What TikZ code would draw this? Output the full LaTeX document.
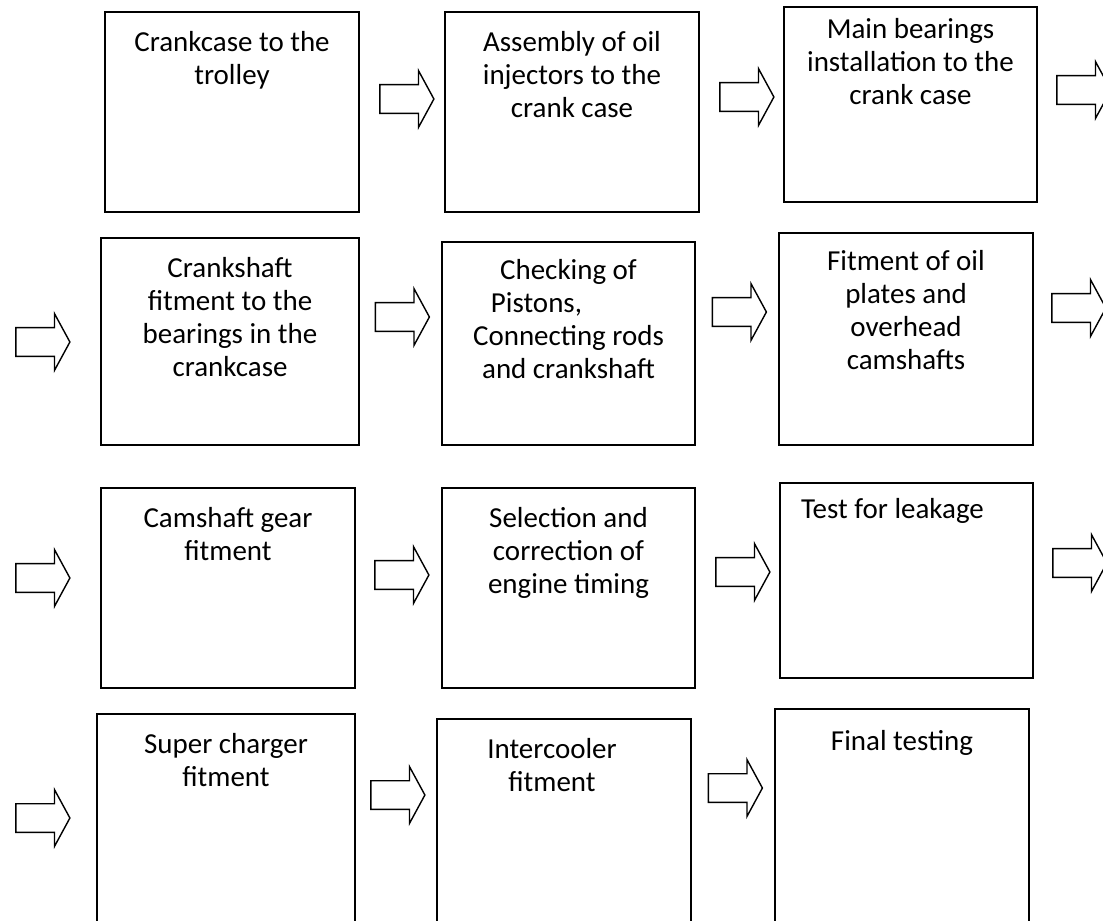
\documentclass[tikz,border=0pt]{standalone}
\usepackage{fontspec}
\setmainfont{Carlito}
\usetikzlibrary{positioning,shapes.arrows}

\begin{document}
\begin{tikzpicture}[x=0.025cm, y=0.025cm,
    stage/.style = {draw, line width=1.4pt, inner sep=0pt},
    txt/.style = {font=\fontsize{20.6}{23.5}\selectfont, align=center, inner sep=0pt},
    blk/.style = {single arrow, draw, line width=1pt, minimum height=1.35cm, inner xsep=0pt,
                  inner ysep=0.34cm, single arrow head extend=0.35cm, single arrow tip angle=123}]

    \useasboundingbox (0,0) rectangle (1103,-920);

    % row 1
    \node[stage, minimum width=6.35cm, minimum height=5cm] (s1) at (232,-112) {};
    \node[stage, minimum width=6.35cm, minimum height=5cm] (s2) at (572,-112) {};
    \node[stage, minimum width=6.33cm, minimum height=4.88cm] (s3) at (910.5,-104.5) {};

    \node[txt, below=0.5cm of s1.north] (t1) {Crankcase to the\\trolley};
    \node[txt, below=0.5cm of s2.north] (t2) {Assembly of oil\\injectors to the\\crank case};
    \node[txt, below=0.3cm of s3.north] (t3) {Main bearings\\installation to the\\crank case};

    \node[blk] (a12) at (403,-99) {};
    \node[blk] (a23) at (743,-97) {};
    \node[blk] (a3o) at (1080,-90) {};

    % row 2
    \node[stage, minimum width=6.45cm, minimum height=5.18cm] (s4) at (230,-341.5) {};
    \node[stage, minimum width=6.33cm, minimum height=5.08cm] (s5) at (568.5,-343.5) {};
    \node[stage, minimum width=6.35cm, minimum height=5.3cm] (s6) at (906,-339) {};

    \node[txt, below=0.5cm of s4.north] (t4) {Crankshaft\\fitment to the\\bearings in the\\crankcase};
    \node[txt, below=0.45cm of s5.north] (t5) {Checking of\\Pistons,\hspace*{1.6cm}\mbox{}\\Connecting rods\\and crankshaft};
    \node[txt, below=0.45cm of s6.north] (t6) {Fitment of oil\\plates and\\overhead\\camshafts};

    \node[blk] (a4i) at (39,-342) {};
    \node[blk] (a45) at (398.5,-317) {};
    \node[blk] (a56) at (735.5,-312) {};
    \node[blk] (a6o) at (1075,-308) {};

    % row 3
    \node[stage, minimum width=6.35cm, minimum height=5cm] (s7) at (228,-588) {};
    \node[stage, minimum width=6.33cm, minimum height=5cm] (s8) at (568.5,-588) {};
    \node[stage, minimum width=6.33cm, minimum height=4.88cm] (s9) at (906.5,-580.5) {};

    \node[txt, below=0.5cm of s7.north] (t7) {Camshaft gear\\fitment};
    \node[txt, below=0.5cm of s8.north] (t8) {Selection and\\correction of\\engine timing};
    \node[txt, anchor=north west] (t9) at ([xshift=0.55cm, yshift=-0.4cm]s9.north west) {Test for leakage};

    \node[blk] (a7i) at (39,-578) {};
    \node[blk] (a78) at (398,-575) {};
    \node[blk] (a89) at (739,-572) {};
    \node[blk] (a9o) at (1076,-563) {};

    % row 4
    \node[stage, minimum width=6.45cm, minimum height=5.4cm] (s10) at (226,-822) {};
    \node[stage, minimum width=6.35cm, minimum height=5.28cm] (s11) at (564,-824.5) {};
    \node[stage, minimum width=6.35cm, minimum height=5.53cm] (s12) at (902,-819.5) {};

    \node[txt, below=0.5cm of s10.north] (t10) {Super charger\\fitment};
    \node[txt, below=0.5cm of s11.north, xshift=-0.3cm] (t11) {Intercooler\\fitment};
    \node[txt, below=0.55cm of s12.north] (t12) {Final testing};

    \node[blk] (a10i) at (39,-818) {};
    \node[blk] (a1011) at (394,-795) {};
    \node[blk] (a1112) at (731.5,-788) {};

\end{tikzpicture}
\end{document}
